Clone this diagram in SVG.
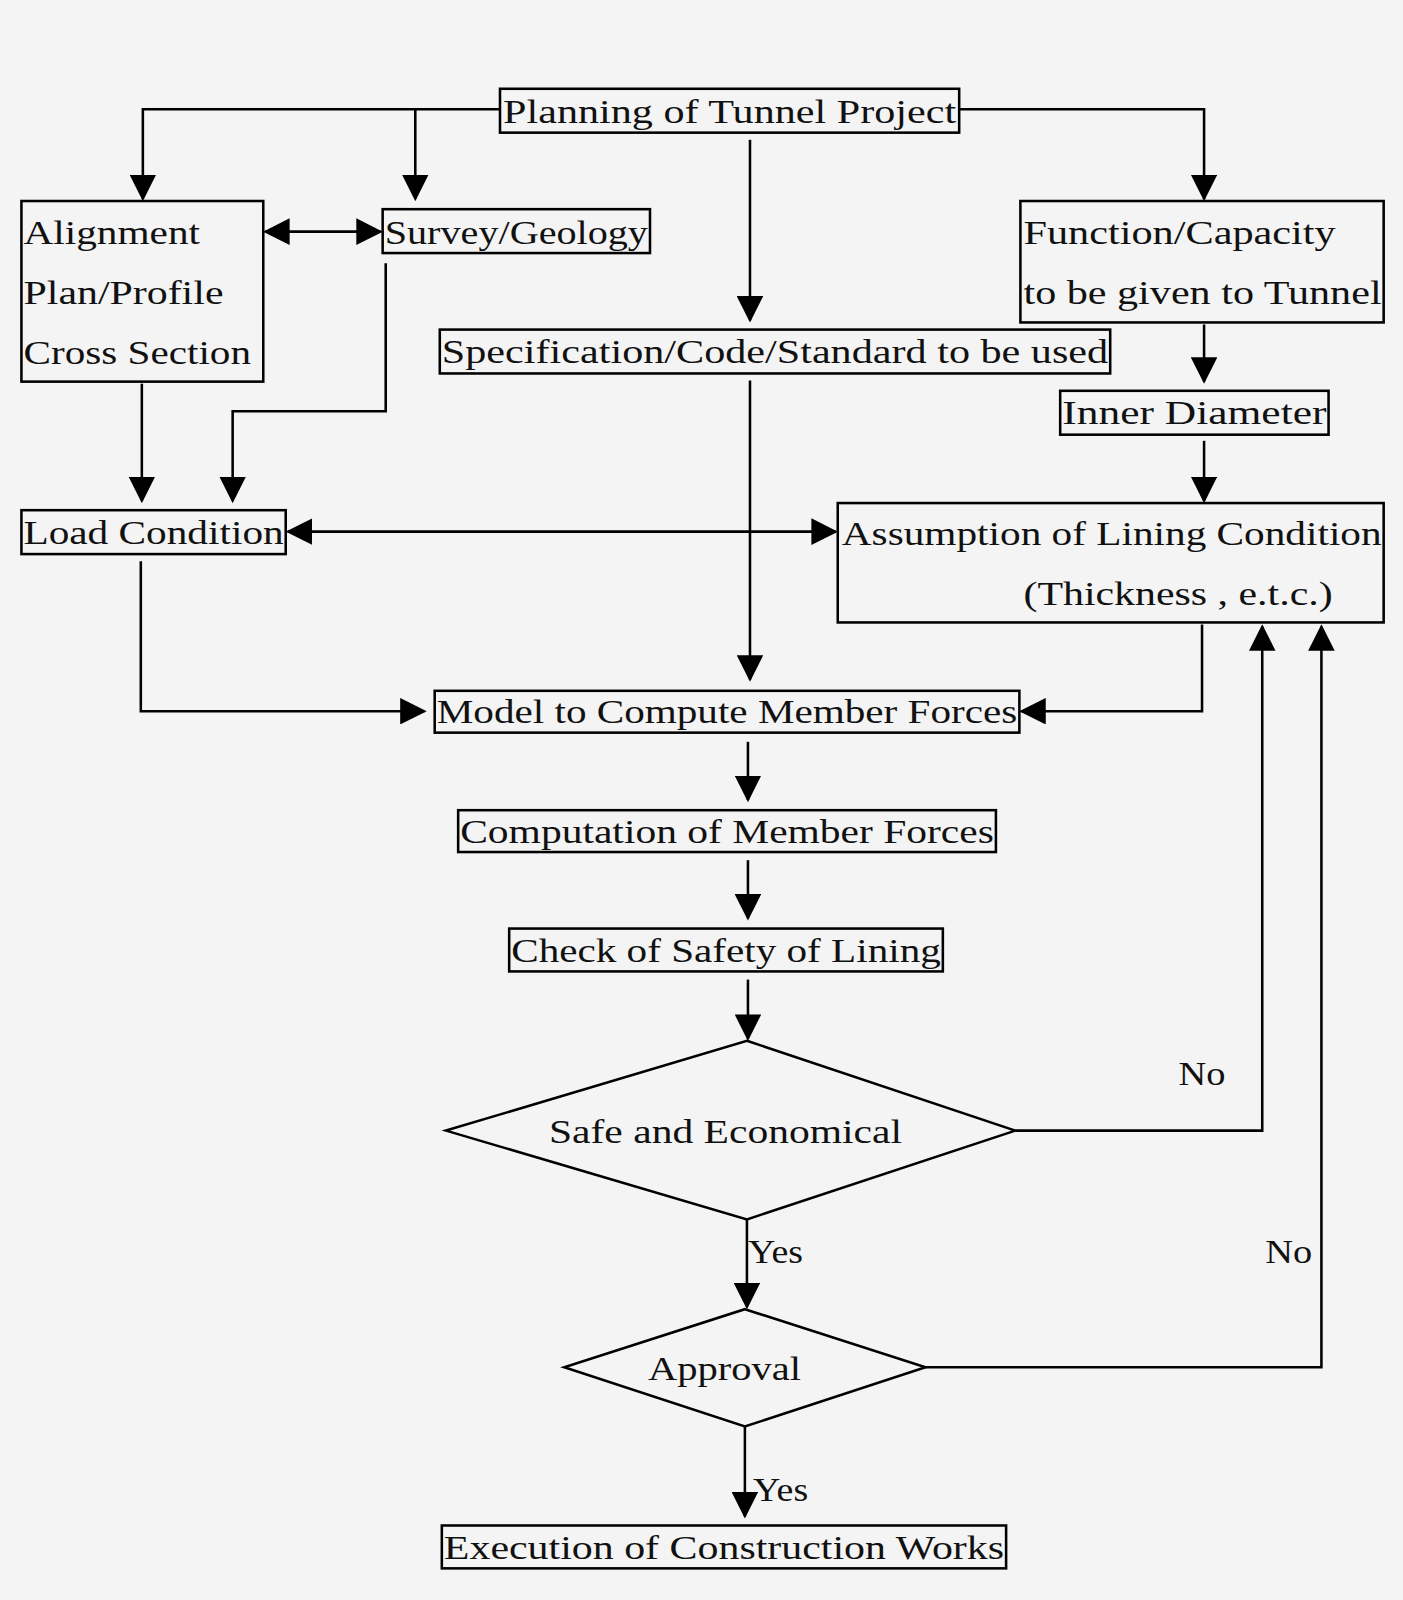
<svg xmlns="http://www.w3.org/2000/svg" width="1403" height="1600" viewBox="0 0 1403 1600">
<style>
.b{fill:none;stroke:#000;stroke-width:2.5}
.c{fill:none;stroke:#000;stroke-width:2.5}
text{font-family:"Liberation Serif","DejaVu Serif",serif;font-size:33px;fill:#111}
.m{text-anchor:middle}
</style>
<defs>
<marker id="a" markerUnits="userSpaceOnUse" markerWidth="26" markerHeight="26" refX="22" refY="12" orient="auto-start-reverse" viewBox="0 0 24 24"><path d="M0,0 L24,12 L0,24 Z" fill="#000"/></marker>
</defs>
<rect width="1403" height="1600" fill="#f4f4f4"/>
<g transform="scale(1.0204)">
<g id="connectors" class="c">
<path d="M490,107 H140 V195" marker-end="url(#a)"/>
<path d="M407,107 V195" marker-end="url(#a)"/>
<path d="M940,107 H1180 V195" marker-end="url(#a)"/>
<path d="M735,137 V314" marker-end="url(#a)"/>
<path d="M260,227 H373" marker-start="url(#a)" marker-end="url(#a)"/>
<path d="M139,376 V491" marker-end="url(#a)"/>
<path d="M378,258 V403 H228 V491" marker-end="url(#a)"/>
<path d="M1180,318 V374" marker-end="url(#a)"/>
<path d="M1180,432 V491" marker-end="url(#a)"/>
<path d="M282,521 H819" marker-start="url(#a)" marker-end="url(#a)"/>
<path d="M735,373 V666" marker-end="url(#a)"/>
<path d="M138,550 V697 H416" marker-end="url(#a)"/>
<path d="M1178,612 V697 H1001" marker-end="url(#a)"/>
<path d="M733,727 V784" marker-end="url(#a)"/>
<path d="M733,843 V900" marker-end="url(#a)"/>
<path d="M733,960 V1018" marker-end="url(#a)"/>
<path d="M995,1108 H1237 V614" marker-end="url(#a)"/>
<path d="M907,1340 H1295 V614" marker-end="url(#a)"/>
<path d="M732,1195 V1281" marker-end="url(#a)"/>
<path d="M730,1398 V1486" marker-end="url(#a)"/>
</g>
<text x="1178" y="1063" class="m" textLength="46" lengthAdjust="spacingAndGlyphs">No</text>
<text x="1263" y="1238" class="m" textLength="46" lengthAdjust="spacingAndGlyphs">No</text>
<text x="760" y="1238" class="m" textLength="54" lengthAdjust="spacingAndGlyphs">Yes</text>
<text x="765" y="1471" class="m" textLength="54" lengthAdjust="spacingAndGlyphs">Yes</text>
<g id="planning"><rect class="b" x="490" y="87" width="450" height="43"/><text x="493" y="121" textLength="444" lengthAdjust="spacingAndGlyphs">Planning of Tunnel Project</text></g>
<g id="alignment"><rect class="b" x="21" y="197" width="237" height="177"/><text x="23" y="239" textLength="173" lengthAdjust="spacingAndGlyphs">Alignment</text><text x="23" y="298" textLength="196" lengthAdjust="spacingAndGlyphs">Plan/Profile</text><text x="23" y="357" textLength="223" lengthAdjust="spacingAndGlyphs">Cross Section</text></g>
<g id="survey"><rect class="b" x="375" y="205" width="262" height="43"/><text x="377" y="239" textLength="258" lengthAdjust="spacingAndGlyphs">Survey/Geology</text></g>
<g id="function"><rect class="b" x="1000" y="197" width="356" height="119"/><text x="1003" y="239" textLength="306" lengthAdjust="spacingAndGlyphs">Function/Capacity</text><text x="1003" y="298" textLength="351" lengthAdjust="spacingAndGlyphs">to be given to Tunnel</text></g>
<g id="spec"><rect class="b" x="431" y="323" width="657" height="43"/><text x="433" y="356" textLength="653" lengthAdjust="spacingAndGlyphs">Specification/Code/Standard to be used</text></g>
<g id="inner"><rect class="b" x="1039" y="383" width="263" height="43"/><text x="1041" y="416" textLength="259" lengthAdjust="spacingAndGlyphs">Inner Diameter</text></g>
<g id="load"><rect class="b" x="21" y="500" width="259" height="43"/><text x="23" y="533" textLength="255" lengthAdjust="spacingAndGlyphs">Load Condition</text></g>
<g id="assumption"><rect class="b" x="821" y="493" width="535" height="117"/><text x="825" y="534" textLength="529" lengthAdjust="spacingAndGlyphs">Assumption of Lining Condition</text><text x="1003" y="593" textLength="303" lengthAdjust="spacingAndGlyphs">(Thickness , e.t.c.)</text></g>
<g id="model"><rect class="b" x="426" y="677" width="573" height="41"/><text x="428" y="709" textLength="569" lengthAdjust="spacingAndGlyphs">Model to Compute Member Forces</text></g>
<g id="computation"><rect class="b" x="449" y="794" width="527" height="41"/><text x="451" y="826" textLength="523" lengthAdjust="spacingAndGlyphs">Computation of Member Forces</text></g>
<g id="check"><rect class="b" x="499" y="910" width="425" height="42"/><text x="501" y="943" textLength="421" lengthAdjust="spacingAndGlyphs">Check of Safety of Lining</text></g>
<g id="safe"><polygon class="b" points="732,1020 995,1108 732,1195 437,1108"/><text x="711" y="1120" class="m" textLength="346" lengthAdjust="spacingAndGlyphs">Safe and Economical</text></g>
<g id="approval"><polygon class="b" points="730,1283 907,1340 730,1398 553,1340"/><text x="710" y="1352" class="m" textLength="150" lengthAdjust="spacingAndGlyphs">Approval</text></g>
<g id="execution"><rect class="b" x="433" y="1495" width="553" height="42"/><text x="435" y="1528" textLength="549" lengthAdjust="spacingAndGlyphs">Execution of Construction Works</text></g>
</g>
</svg>
